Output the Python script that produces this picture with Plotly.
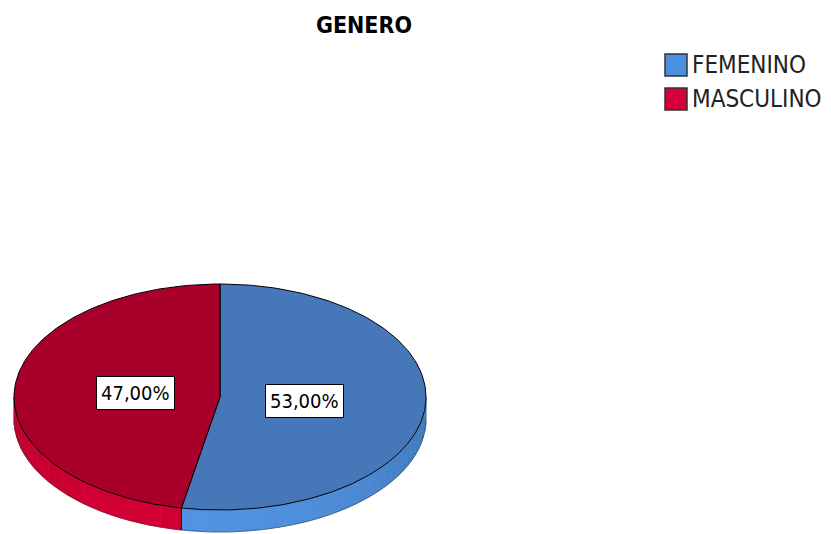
import numpy as np
import plotly.graph_objects as go

# ---- data ----
title_text = "GENERO"
categories = ["FEMENINO", "MASCULINO"]
percentages = [53.0, 47.0]

# ---- styles ----
top_colors = ["#4677B8", "#A8002A"]
side_rgb = [(80, 145, 222), (206, 0, 50)]
legend_colors = ["#4A8FE0", "#D5003A"]
FONT = "DejaVu Sans Condensed, Liberation Sans Narrow, sans-serif"

WIN_W, WIN_H = 831, 534
OFF = 8  # page body margin
W, H = WIN_W - OFF, WIN_H - OFF
cx, cy, rx, ry, depth = 220, 397, 206, 113, 22


def pt(theta_deg, f=1.0, dy=0.0):
    t = np.radians(theta_deg)
    return cx + f * rx * np.sin(t), cy - f * ry * np.cos(t) + dy


def arc(a0, a1, f=1.0, dy=0.0, n=None):
    if n is None:
        n = max(2, int(abs(a1 - a0) / 1.0) + 2)
    th = np.linspace(a0, a1, n)
    xs, ys = pt(th, f, dy)
    return list(xs), list(ys)


def shade(rgb, theta):
    k = 0.86 + 0.16 * np.cos(np.radians(theta - 195))
    return "rgb(%d,%d,%d)" % tuple(int(min(255, c * k)) for c in rgb)


fig = go.Figure()

total = sum(percentages)
bounds = []
cum = 0.0
for p in percentages:
    a0 = cum / total * 360
    cum += p
    a1 = cum / total * 360
    bounds.append((a0, a1))

# side faces (visible front half: 90..270)
for i, (a0, a1) in enumerate(bounds):
    s, e = max(a0, 90), min(a1, 270)
    if e <= s:
        continue
    nseg = max(1, int((e - s) / 3))
    edges = np.linspace(s, e, nseg + 1)
    for j in range(nseg):
        b0, b1 = edges[j], edges[j + 1]
        xt, yt = arc(b0, b1, n=4)
        xb, yb = arc(b1, b0, dy=depth, n=4)
        col = shade(side_rgb[i], (b0 + b1) / 2)
        fig.add_trace(go.Scatter(
            x=xt + xb + [xt[0]], y=yt + yb + [yt[0]],
            fill="toself", fillcolor=col, mode="lines",
            line=dict(color=col, width=0.8),
            hoverinfo="skip", showlegend=False))

# side slice boundary edges
for (a0, a1) in bounds:
    a = a0 % 360
    if 90 < a < 270:
        x0, y0 = pt(a)
        x1, y1 = pt(a, dy=depth)
        fig.add_trace(go.Scatter(x=[x0, x1], y=[y0, y1], mode="lines",
                                 line=dict(color="black", width=1),
                                 hoverinfo="skip", showlegend=False))

# bottom outline
xb, yb = arc(90, 270, dy=depth)
fig.add_trace(go.Scatter(x=xb, y=yb, mode="lines",
                         line=dict(color="rgba(40,40,40,0.5)", width=0.8),
                         hoverinfo="skip", showlegend=False))

# top faces
for i, (a0, a1) in enumerate(bounds):
    xa, ya = arc(a0, a1)
    fig.add_trace(go.Scatter(
        x=[cx] + xa + [cx], y=[cy] + ya + [cy],
        fill="toself", fillcolor=top_colors[i], mode="lines",
        line=dict(color="black", width=1),
        name=categories[i], hoverinfo="name", showlegend=False))

# labels
for i, (a0, a1) in enumerate(bounds):
    mx, my = pt((a0 + a1) / 2, 0.41)
    txt = ("%.2f%%" % percentages[i]).replace(".", ",")
    fig.add_annotation(x=mx, y=my, text=txt, showarrow=False,
                       font=dict(family=FONT, size=20, color="black"),
                       bgcolor="white", bordercolor="black", borderwidth=1,
                       borderpad=4)

# legend (manual)
lx, ly0, dy_row, sw = 665, 65, 34, 22
for i, cat in enumerate(categories):
    yc = ly0 + i * dy_row
    fig.add_shape(type="rect", xref="x", yref="y",
                  x0=lx, x1=lx + sw, y0=yc - sw / 2, y1=yc + sw / 2,
                  fillcolor=legend_colors[i], line=dict(color="#333", width=1.5))
    fig.add_annotation(x=lx + sw + 3, y=yc, text=cat, showarrow=False,
                       xanchor="left", yanchor="middle",
                       font=dict(family=FONT, size=24, color="#222"))

fig.update_layout(
    width=W, height=H,
    margin=dict(l=0, r=0, t=0, b=0, autoexpand=False),
    paper_bgcolor="white", plot_bgcolor="white",
    xaxis=dict(range=[OFF, W + OFF], visible=False, fixedrange=True),
    yaxis=dict(range=[H + OFF, OFF], visible=False, fixedrange=True),
    title=dict(text="<b>" + title_text + "</b>", x=(364 - OFF) / W,
               y=1 - (25 - OFF) / H,
               xanchor="center", yanchor="middle",
               font=dict(family=FONT, size=23, color="black")),
    showlegend=False,
)

fig.write_html("out.html")
